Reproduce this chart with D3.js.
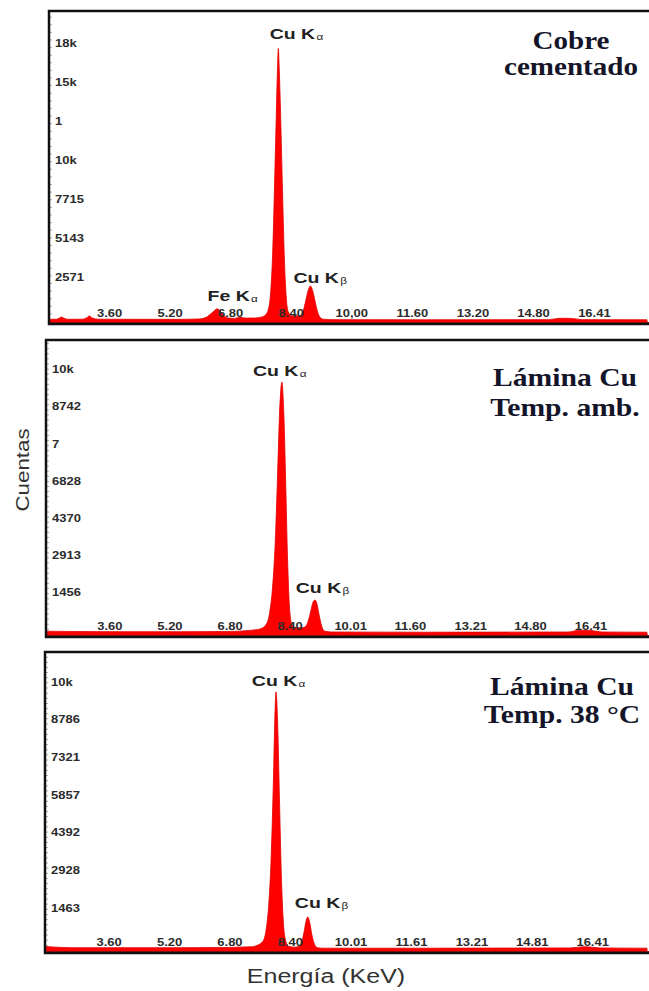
<!DOCTYPE html>
<html>
<head>
<meta charset="utf-8">
<script src="https://cdn.jsdelivr.net/npm/d3@7"></script>
<style>
  body { margin: 0; background: #fff; }
  svg { display: block; }
</style>
</head>
<body>
<div id="chart"></div>
<script>
// spectra: energy (keV) and counts
const cementadoKeV = [2.0, 2.2, 2.28, 2.33, 2.38, 2.5, 2.9, 3.0, 3.07, 3.14, 3.3, 4.5, 5.5, 5.95, 6.15, 6.3, 6.45, 6.58, 6.7, 6.9, 7.05, 7.2, 7.45, 7.6, 7.72, 7.8, 7.86, 7.91, 7.96, 8.01, 8.04, 8.06, 8.08, 8.12, 8.17, 8.22, 8.27, 8.32, 8.4, 8.5, 8.6, 8.65, 8.72, 8.78, 8.84, 8.91, 8.97, 9.03, 9.09, 9.16, 9.25, 9.45, 12.0, 15.2, 15.5, 15.8, 16.1, 17.8];
const cementadoCounts = [110, 120, 200, 260, 200, 110, 120, 220, 330, 200, 120, 110, 110, 130, 240, 520, 800, 480, 210, 170, 240, 190, 200, 250, 400, 800, 2000, 4500, 9000, 14000, 16800, 17900, 16800, 13500, 8500, 4000, 1500, 600, 350, 330, 340, 380, 700, 1300, 1950, 2300, 1950, 1300, 650, 250, 120, 90, 80, 90, 180, 170, 90, 80];

const ambienteKeV = [1.9, 2.5, 4.0, 5.5, 6.8, 7.3, 7.6, 7.75, 7.85, 7.93, 8.0, 8.06, 8.12, 8.18, 8.23, 8.28, 8.33, 8.38, 8.44, 8.55, 8.7, 8.8, 8.88, 8.95, 9.01, 9.06, 9.11, 9.17, 9.24, 9.32, 9.5, 12.0, 15.8, 16.1, 16.4, 16.7, 17.9];
const ambienteCounts = [110, 100, 90, 90, 100, 140, 200, 350, 800, 1800, 3500, 6000, 8700, 9870, 8700, 6000, 3000, 1100, 400, 250, 240, 280, 500, 900, 1250, 1330, 1200, 750, 300, 110, 80, 70, 80, 150, 140, 80, 70];

const caliente38KeV = [1.9, 2.2, 2.6, 4.0, 5.5, 6.8, 7.2, 7.4, 7.55, 7.68, 7.76, 7.83, 7.89, 7.95, 7.99, 8.02, 8.06, 8.11, 8.16, 8.21, 8.27, 8.35, 8.5, 8.65, 8.71, 8.77, 8.82, 8.86, 8.91, 8.97, 9.04, 9.12, 9.3, 12.0, 15.8, 16.2, 16.6, 17.85];
const caliente38Counts = [140, 110, 90, 90, 90, 100, 120, 130, 200, 350, 800, 1800, 3500, 6500, 9000, 10030, 9000, 6000, 3000, 1200, 400, 150, 110, 150, 350, 750, 1150, 1280, 1100, 600, 220, 90, 70, 70, 80, 130, 80, 70];

// axis tick values and labels
const cementadoXTicks = [3.60, 5.20, 6.80, 8.40, 10.00, 11.60, 13.20, 14.80, 16.41];
const cementadoXLabels = ["3.60", "5.20", "6.80", "8.40", "10,00", "11.60", "13.20", "14.80", "16.41"];
const cementadoYTicks = [2571, 5143, 7715, 10286, 12857, 15429, 18000];
const cementadoYLabels = ["2571", "5143", "7715", "10k", "1", "15k", "18k"];

const ambienteXTicks = [3.60, 5.20, 6.80, 8.40, 10.01, 11.60, 13.21, 14.80, 16.41];
const ambienteXLabels = ["3.60", "5.20", "6.80", "8.40", "10.01", "11.60", "13.21", "14.80", "16.41"];
const ambienteYTicks = [1456, 2913, 4370, 5828, 7285, 8742, 10199];
const ambienteYLabels = ["1456", "2913", "4370", "6828", "7", "8742", "10k"];

const caliente38XTicks = [3.60, 5.20, 6.80, 8.40, 10.01, 11.61, 13.21, 14.81, 16.41];
const caliente38XLabels = ["3.60", "5.20", "6.80", "8.40", "10.01", "11.61", "13.21", "14.81", "16.41"];
const caliente38YTicks = [1464, 2928, 4392, 5857, 7321, 8786, 10250];
const caliente38YLabels = ["1463", "2928", "4392", "5857", "7321", "8786", "10k"];

// peak annotations: text, symbol, energy and counts where the label starts
const cementadoPeaks = [["Cu K", "α", 7.83, 18520], ["Cu K", "β", 8.46, 2500], ["Fe K", "α", 6.19, 1320]];
const ambientePeaks = [["Cu K", "α", 7.41, 10100], ["Cu K", "β", 8.55, 1600]];
const caliente38Peaks = [["Cu K", "α", 7.38, 10260], ["Cu K", "β", 8.52, 1630]];

const cementadoTitle = ["Cobre", "cementado"];
const ambienteTitle = ["Lámina Cu", "Temp. amb."];
const caliente38Title = ["Lámina Cu", "Temp. 38 °C"];

const width = 649;
const height = 991;

const svg = d3.select("#chart")
    .append("svg")
    .attr("width", width)
    .attr("height", height)
    .attr("viewBox", `0 0 ${width} ${height}`);

const panels = [
  { id: "p1", keV: cementadoKeV, counts: cementadoCounts, xTicks: cementadoXTicks, xLabels: cementadoXLabels,
    yTicks: cementadoYTicks, yLabels: cementadoYLabels, peaks: cementadoPeaks, title: cementadoTitle,
    xDomain: [2.0, 17.8], yMax: 20370, left: 49, top: 11, bottom: 324, titleX: 571, titleY: 49, lineGap: 26, titleSize: 25.5 },
  { id: "p2", keV: ambienteKeV, counts: ambienteCounts, xTicks: ambienteXTicks, xLabels: ambienteXLabels,
    yTicks: ambienteYTicks, yLabels: ambienteYLabels, peaks: ambientePeaks, title: ambienteTitle,
    xDomain: [1.9, 17.9], yMax: 11520, left: 46, top: 340, bottom: 637, titleX: 565, titleY: 386, lineGap: 30, titleSize: 26 },
  { id: "p3", keV: caliente38KeV, counts: caliente38Counts, xTicks: caliente38XTicks, xLabels: caliente38XLabels,
    yTicks: caliente38YTicks, yLabels: caliente38YLabels, peaks: caliente38Peaks, title: caliente38Title,
    xDomain: [1.9, 17.85], yMax: 11580, left: 45, top: 652, bottom: 953, titleX: 562, titleY: 695, lineGap: 28, titleSize: 26 }
];

const right = 647;

panels.forEach(p => drawPanel(p));

function drawPanel(p){
  const g = svg.append("g").attr("class", "panel");

  const x = d3.scaleLinear().domain(p.xDomain).range([p.left, right]);
  const y = d3.scaleLinear().domain([0, p.yMax]).range([p.bottom - 3, p.top]);

  g.append("clipPath")
   .attr("id", "clip-" + p.id)
   .append("rect")
   .attr("x", p.left)
   .attr("y", p.top)
   .attr("width", width - p.left)
   .attr("height", p.bottom - p.top);

  // minor ticks along the bottom and left edges
  g.append("g")
   .attr("transform", `translate(0, ${p.bottom - 1})`)
   .call(d3.axisBottom(x).ticks(150).tickSizeInner(-2).tickSizeOuter(0).tickFormat(""))
   .call(a => a.select(".domain").remove())
   .call(a => a.selectAll("line").attr("stroke", "#999"));

  g.append("g")
   .attr("transform", `translate(${p.left + 1}, 0)`)
   .call(d3.axisRight(y).ticks(60).tickSize(2).tickFormat(""))
   .call(a => a.select(".domain").remove())
   .call(a => a.selectAll("line").attr("stroke", "#aaa"));

  const pts = p.keV.map((e, i) => [e, p.counts[i]]);

  const area = d3.area()
                 .x(d => x(d[0]))
                 .y0(p.bottom)
                 .y1(d => y(d[1]))
                 .curve(d3.curveMonotoneX);

  g.append("path")
   .datum(pts)
   .attr("clip-path", `url(#clip-${p.id})`)
   .attr("d", area)
   .attr("fill", "#ff0000")
   .attr("stroke", "#e00000")
   .attr("stroke-width", 0.8);

  // baseline dark red line
  g.append("line")
   .attr("x1", p.left).attr("x2", width)
   .attr("y1", p.bottom - 1.5).attr("y2", p.bottom - 1.5)
   .attr("stroke", "#a01010")
   .attr("stroke-width", 1);

  // y labels
  g.selectAll(".ylab")
   .data(p.yTicks)
   .enter()
   .append("text")
   .attr("class", "ylab")
   .attr("transform", d => `translate(${p.left + 6}, ${y(d) - 4}) scale(1.3, 1)`)
   .attr("dominant-baseline", "central")
   .attr("font-family", "Liberation Sans, Arial, sans-serif")
   .attr("font-weight", "bold")
   .attr("font-size", 10)
   .attr("fill", "#2b2b2b")
   .text((d, i) => p.yLabels[i]);

  // x labels
  g.selectAll(".xlab")
   .data(p.xTicks)
   .enter()
   .append("text")
   .attr("class", "xlab")
   .attr("transform", d => `translate(${x(d)}, ${p.bottom - 7}) scale(1.3, 1)`)
   .attr("text-anchor", "middle")
   .attr("font-family", "Liberation Sans, Arial, sans-serif")
   .attr("font-weight", "bold")
   .attr("font-size", 10)
   .attr("fill", "#2b2b2b")
   .text((d, i) => p.xLabels[i]);

  // peak labels
  const labels = g.selectAll(".peak")
                  .data(p.peaks)
                  .enter()
                  .append("text")
                  .attr("class", "peak")
                  .attr("transform", d => `translate(${x(d[2])}, ${y(d[3])}) scale(1.3, 1)`)
                  .attr("font-family", "Liberation Sans, Arial, sans-serif")
                  .attr("font-weight", "bold")
                  .attr("font-size", 15)
                  .attr("fill", "#222");
  labels.append("tspan").text(d => d[0]);
  labels.append("tspan")
        .attr("font-size", 9)
        .attr("font-weight", "normal")
        .attr("dx", 1)
        .attr("dy", 1)
        .text(d => d[1]);

  // title
  p.title.forEach((t, i) => {
    g.append("text")
     .attr("transform", `translate(${p.titleX}, ${p.titleY + i * p.lineGap}) scale(1.14, 1)`)
     .attr("text-anchor", "middle")
     .attr("font-family", "Liberation Serif, Times New Roman, serif")
     .attr("font-weight", "bold")
     .attr("font-size", p.titleSize)
     .attr("fill", "#15152a")
     .text(t);
  });

  // frame
  g.append("rect")
   .attr("x", p.left)
   .attr("y", p.top)
   .attr("width", width + 10 - p.left)
   .attr("height", p.bottom - p.top)
   .attr("fill", "none")
   .attr("stroke", "#111")
   .attr("stroke-width", 2.5);
}

svg.append("text")
   .attr("transform", "translate(23, 470) rotate(-90) scale(1.24, 1)")
   .attr("text-anchor", "middle")
   .attr("dominant-baseline", "central")
   .attr("font-family", "Liberation Sans, Arial, sans-serif")
   .attr("font-size", 18)
   .attr("fill", "#333")
   .text("Cuentas");

svg.append("text")
   .attr("transform", "translate(326, 983) scale(1.25, 1)")
   .attr("text-anchor", "middle")
   .attr("font-family", "Liberation Sans, Arial, sans-serif")
   .attr("font-size", 20)
   .attr("fill", "#333")
   .text("Energía (KeV)");
</script>
</body>
</html>
